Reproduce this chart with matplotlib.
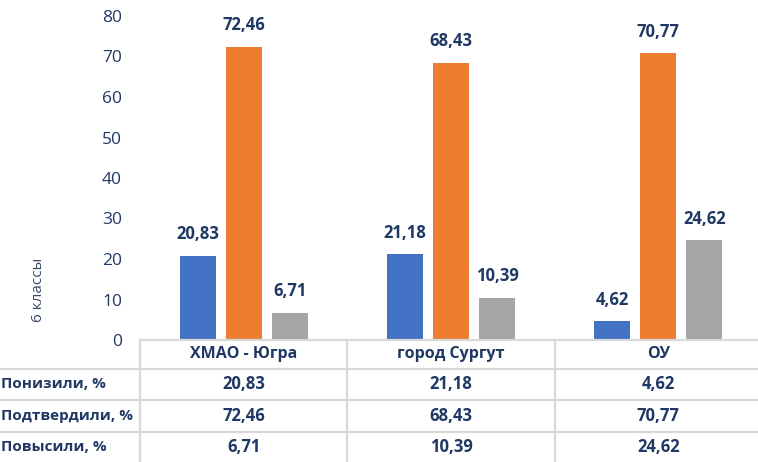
import matplotlib
matplotlib.use("Agg")
import matplotlib.pyplot as plt
import matplotlib.transforms as mtransforms
import numpy as np

categories = ["ХМАО - Югра", "город Сургут", "ОУ"]
series_names = ["Понизили, %", "Подтвердили, %", "Повысили, %"]
lowered = [20.83, 21.18, 4.62]
confirmed = [72.46, 68.43, 70.77]
raised = [6.71, 10.39, 24.62]
series = [lowered, confirmed, raised]
colors = ["#4472C4", "#ED7D31", "#A5A5A5"]
yticks = [0, 10, 20, 30, 40, 50, 60, 70, 80]
ylabel = "6 классы"

def fmt(v):
    return f"{v:.2f}".replace(".", ",")

plt.rcParams['font.family'] = ['Open Sans', 'DejaVu Sans']
TXT = "#1F3864"

W, H = 758, 462
fig = plt.figure(figsize=(W/100, H/100), dpi=100)

def fx(px):
    return px / W

def fy(py):
    return 1 - py / H

ax_left, ax_right, ax_top, ax_bot = 140, 762, 16, 340
ax = fig.add_axes([fx(ax_left), fy(ax_bot), (ax_right-ax_left)/W, (ax_bot-ax_top)/H])
ax.set_xlim(-0.5, 2.5)
ax.set_ylim(0, 80)

x = np.arange(len(categories))
bw = 36/207
step = 46/207
for i, (vals, c) in enumerate(zip(series, colors)):
    pos = x + (i-1)*step
    ax.bar(pos, vals, width=bw, color=c, zorder=2)
    for p, v in zip(pos, vals):
        ax.annotate(fmt(v), (p, v), xytext=(0, 9), textcoords="offset points",
                    ha="center", va="bottom", fontsize=12, fontweight="bold", color=TXT)

for s in ax.spines.values():
    s.set_visible(False)
ax.set_xticks([])
ax.set_yticks(yticks)
ax.set_yticklabels([str(t) for t in yticks], fontsize=12.5, color=TXT)
ax.tick_params(axis="y", length=0, pad=13)

fig.text(fx(38), fy(290), ylabel, rotation=90, ha="center", va="center", fontsize=11, color="#3A4A6A")

# table
lc = "#D9D9D9"
lw = 1.6
trans = mtransforms.blended_transform_factory(ax.transData, fig.transFigure)
row_lines = [340, 369, 400, 432]
fig.add_artist(plt.Line2D([fx(140), fx(762)], [fy(340), fy(340)], color=lc, lw=lw))
for ry in row_lines[1:]:
    fig.add_artist(plt.Line2D([fx(0), fx(762)], [fy(ry), fy(ry)], color=lc, lw=lw))
for vx in [-0.5, 0.5, 1.5, 2.5]:
    fig.add_artist(plt.Line2D([vx, vx], [fy(340), fy(470)], color=lc, lw=lw, transform=trans))

row_centers = [354, 384, 416, 447]
for i, cat in enumerate(categories):
    fig.text(i, fy(row_centers[0]), cat, transform=trans, ha="center", va="center",
             fontsize=11.5, fontweight="bold", color=TXT)
for r, (name, vals) in enumerate(zip(series_names, series)):
    yc = fy(row_centers[r+1])
    fig.text(fx(1), yc, name, ha="left", va="center", fontsize=11, fontweight="bold", color=TXT)
    for i, v in enumerate(vals):
        fig.text(i, yc, fmt(v), transform=trans, ha="center", va="center",
                 fontsize=12, fontweight="bold", color=TXT)

fig.savefig("out.png", dpi=100)
